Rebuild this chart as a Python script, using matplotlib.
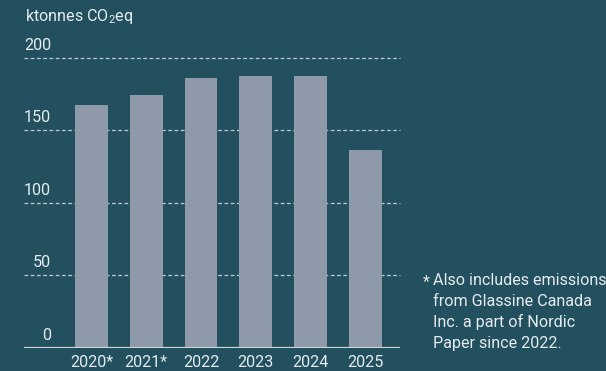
import matplotlib.pyplot as plt
from matplotlib.transforms import offset_copy

years = ["2020*", "2021*", "2022", "2023", "2024", "2025"]
emissions = [167, 174, 186, 187, 187, 136]
yticks = [0, 50, 100, 150, 200]

bg = "#22505f"
bar_color = "#8e9aa9"
text_color = "#e6ecef"
fs = 11.6

plt.rcParams["font.family"] = ["Roboto", "DejaVu Sans"]
plt.rcParams["mathtext.fontset"] = "custom"
plt.rcParams["mathtext.rm"] = "Roboto"

fig = plt.figure(figsize=(6.06, 3.71), dpi=100, facecolor=bg)
ax = fig.add_axes([24 / 606, 23.2 / 371, 376 / 606, 290.3 / 371])
ax.set_facecolor(bg)

x = range(len(years))
ax.bar(x, emissions, width=0.6, color=bar_color, zorder=3)
ax.set_xlim(-1.23, 5.63)
ax.set_ylim(0, 200)

# dashed grid lines behind bars
for t in yticks[1:]:
    ax.axhline(t, color="#bfcad0", lw=0.9, ls=(0, (3, 2)), zorder=1, clip_on=False)
ax.axhline(0, color="#d0d4d6", lw=1.6, zorder=4)

# y labels sit above the grid lines, right aligned
lab_tr = offset_copy(ax.get_yaxis_transform(), fig=fig, x=0, y=9, units="points")
for t in yticks:
    ax.text(27 / 376, t, str(t), transform=lab_tr, ha="right", va="center",
            color=text_color, fontsize=fs)

ax.set_xticks(list(x))
ax.set_xticklabels(years, color=text_color, fontsize=fs)
ax.tick_params(axis="x", length=0, pad=5.5)
ax.set_yticks([])
for s in ax.spines.values():
    s.set_visible(False)

fig.text(25 / 606, 1 - 17 / 371, r"ktonnes CO$_{\mathrm{2}}$eq", color=text_color, fontsize=fs,
         ha="left", va="center")

fig.text(423 / 606, 1 - 282 / 371, "*", color=text_color, fontsize=fs, ha="left", va="center")
fig.text(433 / 606, 1 - 312 / 371,
         "Also includes emissions\nfrom Glassine Canada\nInc. a part of Nordic\nPaper since 2022.",
         color=text_color, fontsize=fs, ha="left", va="center", linespacing=1.45)

fig.savefig("out.png", dpi=100, facecolor=bg)
